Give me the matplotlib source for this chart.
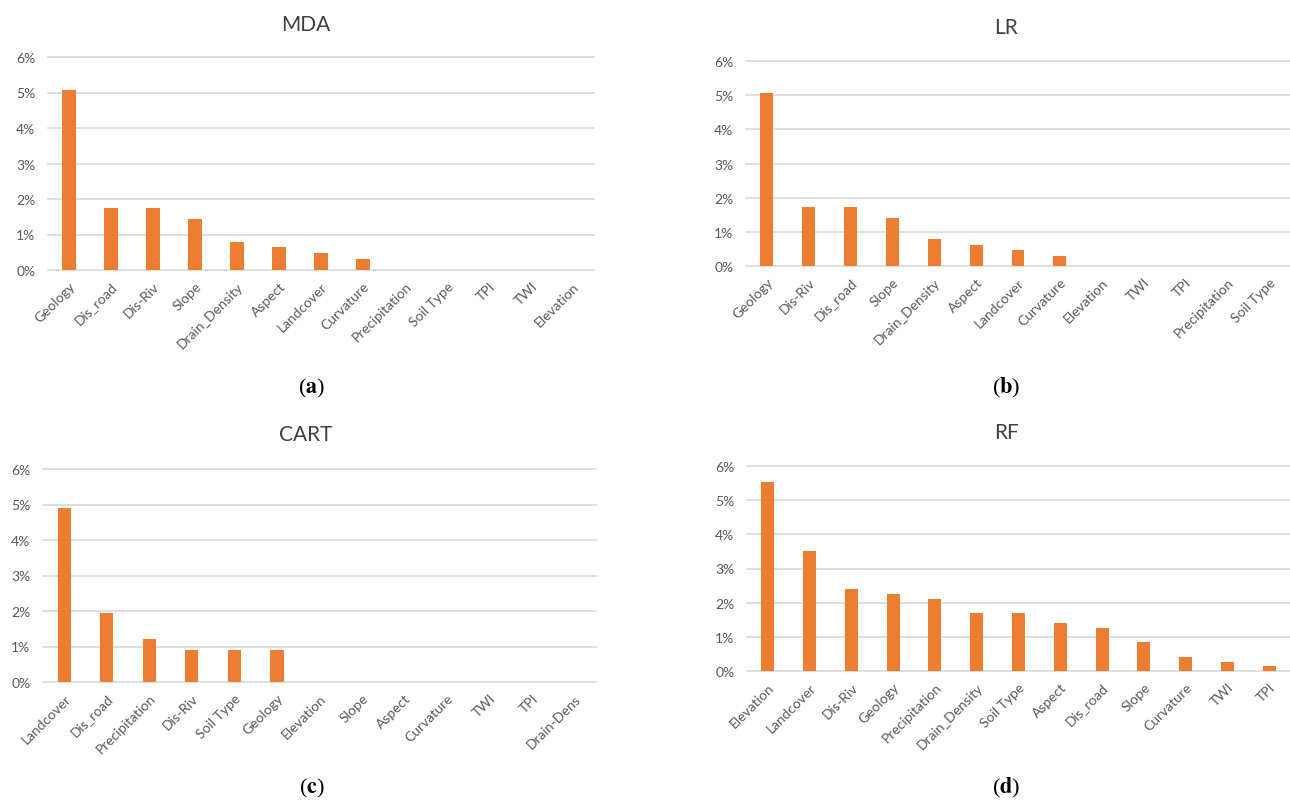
import matplotlib

matplotlib.use("Agg")
import matplotlib.pyplot as plt
import numpy as np
from matplotlib.ticker import FuncFormatter

plt.rcParams["font.family"] = ["Lato", "DejaVu Sans"]
plt.rcParams["mathtext.fontset"] = "stix"

# importance values (%)
mda_labels = ["Geology", "Dis_road", "Dis-Riv", "Slope", "Drain_Density", "Aspect",
              "Landcover", "Curvature", "Precipitation", "Soil Type", "TPI", "TWI", "Elevation"]
mda_values = [5.08, 1.74, 1.74, 1.43, 0.80, 0.64, 0.48, 0.32, 0, 0, 0, 0, 0]

lr_labels = ["Geology", "Dis-Riv", "Dis_road", "Slope", "Drain_Density", "Aspect",
             "Landcover", "Curvature", "Elevation", "TWI", "TPI", "Precipitation", "Soil Type"]
lr_values = [5.05, 1.72, 1.72, 1.41, 0.78, 0.61, 0.47, 0.30, 0, 0, 0, 0, 0]

cart_labels = ["Landcover", "Dis_road", "Precipitation", "Dis-Riv", "Soil Type", "Geology",
               "Elevation", "Slope", "Aspect", "Curvature", "TWI", "TPI", "Drain-Dens"]
cart_values = [4.90, 1.95, 1.20, 0.89, 0.89, 0.89, 0, 0, 0, 0, 0, 0, 0]

rf_labels = ["Elevation", "Landcover", "Dis-Riv", "Geology", "Precipitation", "Drain_Density",
             "Soil Type", "Aspect", "Dis_road", "Slope", "Curvature", "TWI", "TPI"]
rf_values = [5.52, 3.52, 2.39, 2.25, 2.11, 1.69, 1.69, 1.40, 1.27, 0.84, 0.42, 0.27, 0.14]

W, H = 1290, 803
BAR = "#ED7D31"
GRID = "#d9d9d9"
TXT = "#595959"

fig = plt.figure(figsize=(W / 100, H / 100), dpi=100)
fig.patch.set_facecolor("white")


def px_axes(x0, x1, ytop, ybot):
    return fig.add_axes([x0 / W, 1 - ybot / H, (x1 - x0) / W, (ybot - ytop) / H])


def draw_panel(ax, labels, values):
    x = np.arange(len(labels))
    ax.bar(x, values, width=0.31, color=BAR, zorder=3)
    ax.set_xlim(-0.5, len(labels) - 0.5)
    ax.set_ylim(0, 6)
    ax.set_yticks(range(0, 7))
    ax.yaxis.set_major_formatter(FuncFormatter(lambda v, p: f"{int(v)}%"))
    ax.grid(axis="y", color=GRID, linewidth=1.2, zorder=0)
    for gl in ax.get_ygridlines():
        gl.set_clip_on(False)
    for s in ax.spines.values():
        s.set_visible(False)
    ax.set_xticks(x)
    ax.set_xticklabels(labels, rotation=45, ha="right", rotation_mode="anchor")
    ax.tick_params(axis="both", length=0, labelsize=10, labelcolor=TXT)
    ax.tick_params(axis="y", pad=9)
    ax.tick_params(axis="x", pad=7)


panels = [
    ("MDA", mda_labels, mda_values, (48, 594, 58, 271), (306, 25), (312, 388), "a"),
    ("LR", lr_labels, lr_values, (746, 1290, 62, 267), (1006, 28), (1006, 388), "b"),
    ("CART", cart_labels, cart_values, (43, 596, 470, 683), (306, 435), (312, 788), "c"),
    ("RF", rf_labels, rf_values, (747, 1290, 467, 672), (1006, 433), (1006, 788), "d"),
]

for title, labels, values, box, tpos, cpos, letter in panels:
    ax = px_axes(*box)
    draw_panel(ax, labels, values)
    fig.text(tpos[0] / W, 1 - tpos[1] / H, title, ha="center", va="center",
             fontsize=15, color="#404040")
    fig.text(cpos[0] / W, 1 - cpos[1] / H, "($\\mathbf{" + letter + "}$)",
             ha="center", va="center", fontsize=16, color="black",
             family="Liberation Serif")

fig.savefig("out.png", dpi=100, facecolor="white")
